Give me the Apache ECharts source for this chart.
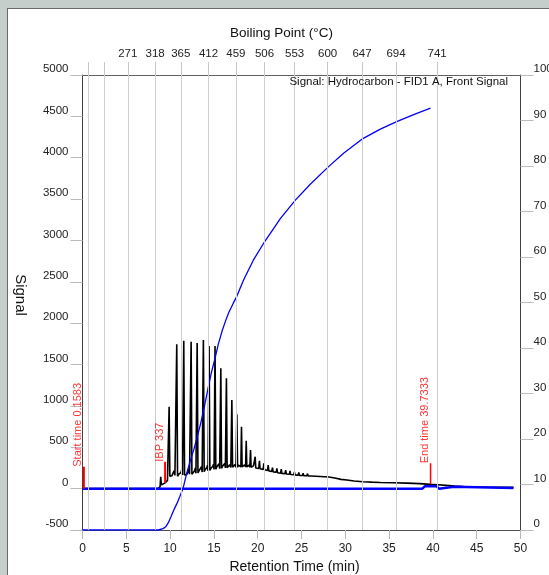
<!DOCTYPE html>
<html><head><meta charset="utf-8">
<script src="https://cdn.jsdelivr.net/npm/echarts@6/dist/echarts.min.js"></script>
<style>
html,body{margin:0;padding:0;background:#c6cecb;width:549px;height:575px;overflow:hidden;}
#chart{position:absolute;left:7px;top:8px;width:541px;height:566px;background:#fff;border-left:1px solid #6a6a6a;border-top:1px solid #6a6a6a;}
</style></head><body><div id="chart"></div>
<script>
// Top axis: boiling point ticks (retention time positions) and labels
const bpTimes  = [0.71, 2.46, 5.17, 8.29, 11.22, 14.38, 17.51, 20.78, 24.21, 27.98, 31.91, 35.79, 40.48];
const bpLabels = ['', '', '271', '318', '365', '412', '459', '506', '553', '600', '647', '694', '741'];

// Chromatogram signal (time min, signal)
const signalPoints = [
 [0,0],[8.6,0],[8.85,20],[8.93,144],[9.0,45],[9.2,55],[9.43,70],[9.7,100],[9.8,120],
 [9.89,990],[9.97,150],[10.1,170],[10.2,155],[10.35,175],[10.45,215],[10.55,160],[10.68,155],
 [10.76,1745],[10.85,150],[11.0,175],[11.1,160],[11.25,195],[11.32,225],[11.42,165],[11.48,160],
 [11.56,1788],[11.65,165],[11.8,185],[11.9,170],[12.05,205],[12.12,240],[12.22,175],[12.32,170],
 [12.40,1776],[12.49,175],[12.6,195],[12.7,180],[12.82,220],[12.88,250],[12.95,185],[13.01,185],
 [13.09,1760],[13.18,190],[13.3,215],[13.4,195],[13.52,235],[13.58,265],[13.66,200],[13.72,200],
 [13.80,1797],[13.89,205],[14.0,230],[14.1,210],[14.2,255],[14.26,280],[14.33,215],[14.38,215],
 [14.45,1723],[14.54,220],[14.65,245],[14.75,228],[14.88,270],[14.95,295],[15.02,232],[15.06,232],
 [15.13,1724],[15.22,235],[15.32,262],[15.42,240],[15.52,280],[15.58,300],[15.66,242],[15.71,242],
 [15.79,1454],[15.87,245],[15.98,270],[16.08,250],[16.18,285],[16.24,305],[16.31,250],[16.36,250],
 [16.43,1333],[16.51,252],[16.62,275],[16.72,255],[16.8,290],[16.86,305],[16.93,255],[16.98,255],
 [17.05,1071],[17.13,258],[17.23,280],[17.32,258],[17.4,290],[17.46,305],[17.52,260],[17.56,260],
 [17.62,898],[17.7,260],[17.8,285],[17.88,262],[17.96,290],[18.02,300],[18.08,262],
 [18.15,748],[18.22,262],[18.32,280],[18.4,262],[18.5,288],[18.56,295],[18.62,262],
 [18.69,579],[18.76,262],[18.86,280],[18.94,260],[19.02,285],[19.1,258],
 [19.18,467],[19.25,258],[19.36,275],[19.44,255],[19.52,275],[19.62,252],
 [19.71,386],[19.78,250],[19.9,268],[19.98,248],[20.12,245],
 [20.2,337],[20.27,240],[20.4,255],[20.48,238],[20.62,232],
 [20.7,306],[20.77,228],[20.9,240],[21.12,220],
 [21.2,285],[21.27,215],[21.4,225],[21.6,208],
 [21.69,253],[21.76,203],[21.9,212],[22.12,198],
 [22.19,245],[22.26,193],[22.62,188],[22.69,236],[22.76,185],
 [23.12,180],[23.19,225],[23.26,177],[23.62,173],[23.69,214],[23.76,170],
 [24.12,168],[24.19,203],[24.26,165],[24.62,163],[24.69,195],[24.76,160],
 [25.12,158],[25.19,188],[25.26,156],[25.62,155],[25.69,182],[25.76,153],
 [26.12,152],[26.19,176],[26.26,150],[26.62,149],[26.69,170],[26.76,147],
 [27.12,146],[27.19,165],[27.26,144],[27.62,143],[27.69,160],[27.76,141],
 [28.12,140],[28.19,155],[28.26,138],[28.8,128],[29.5,112],[30.2,104],[31.0,93],
 [32.0,84],[33.0,79],[34.0,75],[35.5,72],[37.0,67],[38.5,60],[39.7,52],[40.5,47],
 [41.5,40],[42.5,31],[43.5,24],[45.0,20],[47.0,17],[49.2,15]
];

// Flat blue trace near zero (signal axis)
const blankTime  = [0, 38.8, 39.1, 40.4, 40.7, 40.9, 42.4, 42.6, 49.2];
const blankValue = [0, 0, 30, 30, 0, 22, 22, 8, 8];

// Cumulative yield curve (% on right axis)
const cumTime    = [0, 8.65, 9.2, 9.5, 9.8, 10.1, 10.5, 10.8, 11.1, 11.5, 11.9, 12.3, 12.7, 13.1, 13.5, 13.9, 14.3, 14.7, 15.1, 15.5, 15.9, 16.3, 16.7, 17.2, 17.6, 18.4, 19.5, 20.8, 22.6, 24.3, 26.0, 28.0, 29.8, 31.9, 34.0, 35.8, 37.8, 39.73];
const cumPercent = [0, 0, 0.3, 0.7, 1.6, 2.9, 4.7, 5.9, 7.3, 9.3, 12.5, 15.2, 17.6, 20.5, 23.5, 27.0, 30.8, 34.5, 37.5, 40.8, 43.5, 45.8, 47.8, 49.8, 51.3, 55.0, 59.3, 63.4, 68.5, 72.5, 76.0, 79.7, 82.8, 85.9, 88.1, 89.7, 91.3, 92.7];

// Red event markers
const markerTimes  = [0.1583, 9.43, 39.7333];
const markerFrom   = [0, 70, 52];
const markerTo     = [265, 325, 306];
const markerWidths = [2, 2, 1.5];
const markerLabels = ['Start time 0.1583', 'IBP 337', 'End time 39.7333'];

const FONT = 'Liberation Sans, Arial, sans-serif';
const chart = echarts.init(document.getElementById('chart'), null, {renderer: 'canvas'});

const series = [];
series.push({
  type: 'line', data: [], xAxisIndex: 0, yAxisIndex: 0, z: 1, silent: true,
  markLine: {
    silent: true, symbol: ['none', 'none'], animation: false,
    label: {show: false},
    lineStyle: {color: '#cfcfcf', width: 1, type: 'solid'},
    data: bpTimes.map(t => ({xAxis: t}))
  }
});
series.push({
  type: 'line', name: 'signal', data: signalPoints, showSymbol: false, symbol: 'none',
  xAxisIndex: 0, yAxisIndex: 0, z: 2, sampling: null,
  lineStyle: {color: '#000', width: 1.6}
});
series.push({
  type: 'line', name: 'blank', data: blankTime.map((t, i) => [t, blankValue[i]]), symbol: 'none',
  xAxisIndex: 0, yAxisIndex: 0, z: 3,
  lineStyle: {color: '#0000ff', width: 2.5}
});
series.push({
  type: 'line', name: 'cumulative', data: cumTime.map((t, i) => [t, cumPercent[i]]), symbol: 'none',
  xAxisIndex: 0, yAxisIndex: 1, z: 4,
  lineStyle: {color: '#0000ff', width: 1.3}
});
markerTimes.forEach((t, i) => {
  series.push({
    type: 'line', data: [[t, markerFrom[i]], [t, markerTo[i]]], symbol: 'none',
    xAxisIndex: 0, yAxisIndex: 0, z: 5,
    lineStyle: {color: '#ff0000', width: markerWidths[i]}
  });
});
series.push({
  type: 'scatter', xAxisIndex: 0, yAxisIndex: 0, z: 6, symbolSize: 1,
  itemStyle: {color: 'rgba(0,0,0,0)'},
  data: markerTimes.map((t, i) => ({value: [t, markerTo[i]], name: markerLabels[i]})),
  label: {
    show: true, position: 'inside', rotate: 90, align: 'left', verticalAlign: 'bottom',
    formatter: p => p.name, color: '#ff0000', fontSize: 11, fontFamily: FONT
  }
});

chart.setOption({
  animation: false,
  textStyle: {fontFamily: FONT},
  grid: {left: 74.5, right: 28.5, top: 66, bottom: 45, containLabel: false, outerBoundsMode: 'none'},
  xAxis: [
    {
      type: 'value', position: 'bottom', min: 0, max: 50, interval: 5,
      axisLine: {show: true, onZero: false, lineStyle: {color: '#505050', width: 1}},
      axisTick: {show: true, length: 9, lineStyle: {color: '#b8b8b8'}},
      axisLabel: {color: '#222', fontSize: 12, margin: 13, fontFamily: FONT, formatter: v => String(v)},
      splitLine: {show: false},
      name: 'Retention Time (min)', nameLocation: 'middle', nameGap: 30,
      nameTextStyle: {fontSize: 14, color: '#111', fontFamily: FONT, padding: [0, 14, 0, 0]}
    },
    {
      type: 'value', position: 'top', min: 0, max: 50,
      axisLine: {show: true, onZero: false, lineStyle: {color: '#606060', width: 1}},
      axisTick: {show: true, length: 13, customValues: bpTimes, lineStyle: {color: '#c8c8c8'}},
      axisLabel: {
        customValues: bpTimes.filter((t, i) => bpLabels[i] !== ''),
        formatter: v => bpLabels[bpTimes.indexOf(v)],
        color: '#222', fontSize: 11.5, margin: 15, fontFamily: FONT
      },
      splitLine: {show: false},
      name: 'Boiling Point (°C)', nameLocation: 'middle', nameGap: 35,
      nameTextStyle: {fontSize: 13.5, color: '#111', fontFamily: FONT, padding: [0, 40, 0, 0]}
    }
  ],
  yAxis: [
    {
      type: 'value', position: 'left', min: -500, max: 5000, interval: 500,
      axisLine: {show: true, onZero: false, lineStyle: {color: '#404040', width: 1}},
      axisTick: {show: true, length: 12, lineStyle: {color: '#bbbbbb'}},
      axisLabel: {color: '#222', fontSize: 11.5, margin: 14, verticalAlign: 'bottom', fontFamily: FONT, formatter: v => String(v)},
      splitLine: {show: false},
      name: 'Signal', nameLocation: 'middle', nameRotate: -90, nameGap: 55,
      nameTextStyle: {fontSize: 15, color: '#111', fontFamily: FONT, padding: [0, 15, 0, 0]}
    },
    {
      type: 'value', position: 'right', min: 0, max: 100, interval: 10,
      axisLine: {show: true, onZero: false, lineStyle: {color: '#404040', width: 1}},
      axisTick: {show: true, length: 13, lineStyle: {color: '#bbbbbb'}},
      axisLabel: {color: '#222', fontSize: 11.5, margin: 13, verticalAlign: 'bottom', fontFamily: FONT, formatter: v => String(v)},
      splitLine: {show: false}
    }
  ],
  graphic: [{
    type: 'text', right: 41, top: 67, z: 10,
    style: {text: 'Signal: Hydrocarbon - FID1 A, Front Signal', fill: '#111', font: '11.5px ' + FONT}
  }],
  series: series
});
</script>
</body></html>
